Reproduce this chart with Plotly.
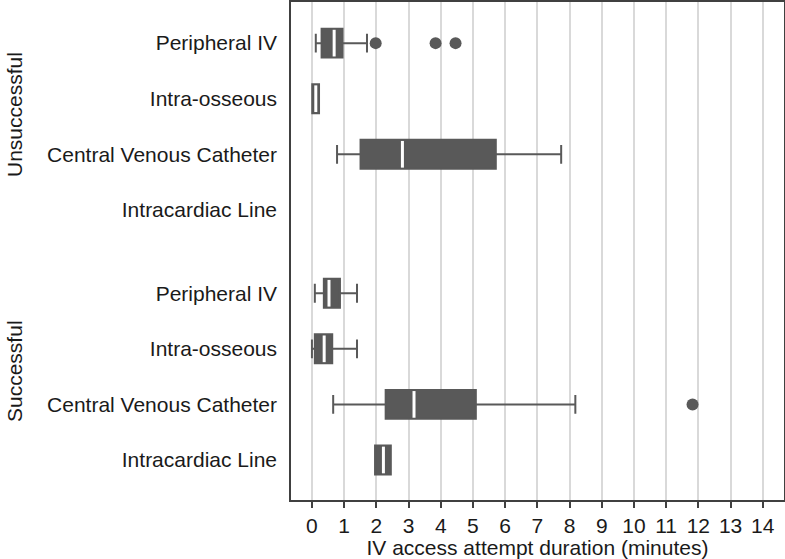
import plotly.graph_objects as go

# ---- data ----
methods = ["Peripheral IV", "Intra-osseous", "Central Venous Catheter", "Intracardiac Line"]
groups = ["Unsuccessful", "Successful"]

# per group, per method: [lower whisker, q1, median, q3, upper whisker] (None = no data)
unsuccessful_stats = [
    [0.12, 0.30, 0.69, 0.95, 1.71],
    [0.01, 0.01, 0.12, 0.22, 0.22],
    [0.78, 1.51, 2.81, 5.71, 7.74],
    None,
]
successful_stats = [
    [0.09, 0.37, 0.53, 0.87, 1.40],
    [0.00, 0.09, 0.38, 0.63, 1.40],
    [0.66, 2.29, 3.17, 5.09, 8.18],
    [1.96, 1.96, 2.22, 2.45, 2.45],
]
unsuccessful_outliers = [[1.98, 3.84, 4.46], [], [], []]
successful_outliers = [[], [], [11.82], []]

x_ticks = list(range(0, 15))

# ---- layout helpers ----
GRAY = "#595959"
FONT = "Liberation Sans, Arial, sans-serif"
FS = 21
box_w = 0.52
group_gap = 1.5

positions, labels, stats_all, outl_all = [], [], [], []
for gi, (stats, outl) in enumerate([(unsuccessful_stats, unsuccessful_outliers),
                                    (successful_stats, successful_outliers)]):
    for mi, m in enumerate(methods):
        pos = gi * (len(methods) - 1 + group_gap) + mi
        positions.append(pos)
        labels.append(m)
        stats_all.append(stats[mi])
        outl_all.append(outl[mi])

bp = [p for p, s in zip(positions, stats_all) if s is not None]
bs = [s for s in stats_all if s is not None]

fig = go.Figure()
fig.add_trace(go.Box(
    orientation="h",
    y=bp,
    lowerfence=[s[0] for s in bs],
    q1=[s[1] for s in bs],
    median=[s[2] for s in bs],
    q3=[s[3] for s in bs],
    upperfence=[s[4] for s in bs],
    width=box_w,
    whiskerwidth=0.65,
    fillcolor=GRAY,
    line=dict(color=GRAY, width=2),
    boxpoints=False,
    hoverinfo="skip",
    showlegend=False,
))

# white median lines
mx, my = [], []
for p, s in zip(bp, bs):
    mx += [s[2], s[2], None]
    my += [p - box_w / 2 + 0.02, p + box_w / 2 - 0.02, None]
fig.add_trace(go.Scatter(x=mx, y=my, mode="lines",
                         line=dict(color="white", width=3),
                         hoverinfo="skip", showlegend=False))

# outliers
ox, oy = [], []
for p, o in zip(positions, outl_all):
    for v in o:
        ox.append(v)
        oy.append(p)
fig.add_trace(go.Scatter(x=ox, y=oy, mode="markers",
                         marker=dict(color=GRAY, size=12),
                         hoverinfo="skip", showlegend=False))

W, H = 785, 559
ml, mr, mt, mb = 291, 1, 2, 59
ph = H - mt - mb

ymin = -0.74
ymax = positions[-1] + 0.72

fig.update_layout(
    width=W, height=H,
    margin=dict(l=ml, r=mr, t=mt, b=mb, autoexpand=False),
    paper_bgcolor="white", plot_bgcolor="white",
    font=dict(family=FONT, size=FS, color="#1a1a1a"),
    xaxis=dict(
        range=[-0.65, 14.66],
        tickvals=x_ticks,
        ticktext=[str(t) for t in x_ticks],
        showgrid=True, gridcolor="#d9d9d9", gridwidth=1.5,
        zeroline=False,
        showline=True, linecolor="#404040", linewidth=1.5, mirror=True,
        ticks="outside", ticklen=6, tickcolor="#404040", tickwidth=1.5,
        tickfont=dict(size=FS),
        title=dict(text="IV access attempt duration (minutes)", font=dict(size=FS), standoff=2),
    ),
    yaxis=dict(
        range=[ymax, ymin],
        tickvals=positions,
        ticktext=labels,
        showgrid=False, zeroline=False,
        showline=True, linecolor="#404040", linewidth=1.5, mirror=True,
        ticks="", ticklabelstandoff=8,
        tickfont=dict(size=FS),
    ),
    annotations=[
        dict(text="Unsuccessful", xref="paper", yref="paper",
             x=-(ml - 14) / (W - ml - mr), y=(H - mb - 115) / ph,
             xanchor="center", yanchor="middle", textangle=-90,
             showarrow=False, font=dict(size=FS)),
        dict(text="Successful", xref="paper", yref="paper",
             x=-(ml - 14) / (W - ml - mr), y=(H - mb - 371) / ph,
             xanchor="center", yanchor="middle", textangle=-90,
             showarrow=False, font=dict(size=FS)),
    ],
)

fig.write_html(
    "out.html",
    config={"displayModeBar": False},
    post_script="document.body.style.margin='0';document.body.style.overflow='hidden';",
)
